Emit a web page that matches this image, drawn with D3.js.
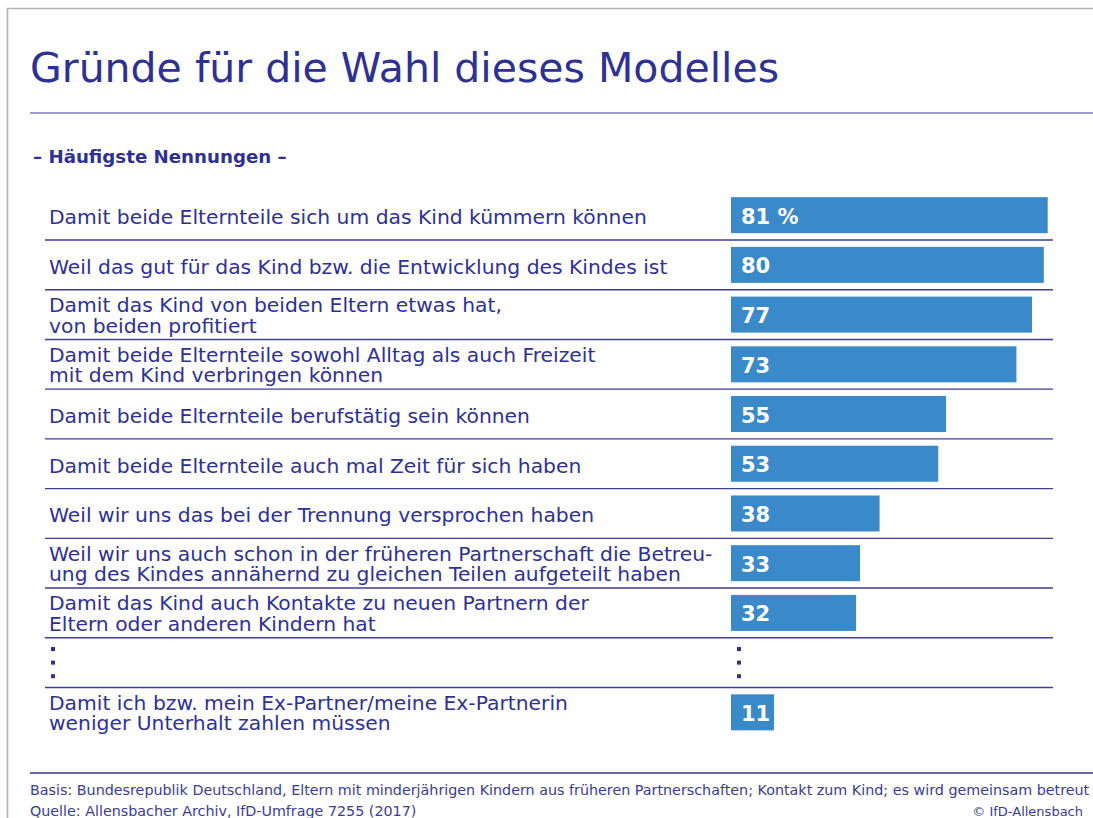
<!DOCTYPE html>
<html>
<head>
<meta charset="utf-8">
<script src="https://cdn.jsdelivr.net/npm/d3@7"></script>
<style>
  body { margin: 0; background: #fff; }
  svg { display: block; }
  text { font-family: "DejaVu Sans", sans-serif; }
</style>
</head>
<body>
<svg width="1093" height="818"></svg>
<script>
// answers (one entry per row, lines split for the two-line labels)
var labels = [
  ["Damit beide Elternteile sich um das Kind kümmern können"],
  ["Weil das gut für das Kind bzw. die Entwicklung des Kindes ist"],
  ["Damit das Kind von beiden Eltern etwas hat,", "von beiden profitiert"],
  ["Damit beide Elternteile sowohl Alltag als auch Freizeit", "mit dem Kind verbringen können"],
  ["Damit beide Elternteile berufstätig sein können"],
  ["Damit beide Elternteile auch mal Zeit für sich haben"],
  ["Weil wir uns das bei der Trennung versprochen haben"],
  ["Weil wir uns auch schon in der früheren Partnerschaft die Betreu-", "ung des Kindes annähernd zu gleichen Teilen aufgeteilt haben"],
  ["Damit das Kind auch Kontakte zu neuen Partnern der", "Eltern oder anderen Kindern hat"],
  [],  // ellipsis row
  ["Damit ich bzw. mein Ex-Partner/meine Ex-Partnerin", "weniger Unterhalt zahlen müssen"]
];
var values = [81, 80, 77, 73, 55, 53, 38, 33, 32, null, 11];

var title = "Gründe für die Wahl dieses Modelles";
var subtitle = "– Häufigste Nennungen –";
var basis = "Basis: Bundesrepublik Deutschland, Eltern mit minderjährigen Kindern aus früheren Partnerschaften; Kontakt zum Kind; es wird gemeinsam betreut";
var quelle = "Quelle: Allensbacher Archiv, IfD-Umfrage 7255 (2017)";
var copyright = "© IfD-Allensbach";

var blue = "#2e3192",
    barBlue = "#3a89c9";

var svg = d3.select("svg"),
    width = +svg.attr("width"),
    height = +svg.attr("height");

// frame
svg.append("path")
  .attr("d", "M7.5," + height + "V8.5H" + width)
  .attr("fill", "none")
  .attr("stroke", "#b3b3b3")
  .attr("stroke-width", 1.6);

svg.append("text")
  .attr("x", 30)
  .attr("y", 82)
  .attr("fill", blue)
  .style("font-size", "41px")
  .text(title);

svg.append("line")
  .attr("x1", 30).attr("x2", width)
  .attr("y1", 113).attr("y2", 113)
  .attr("stroke", "#7b7ec2")
  .attr("stroke-width", 1.5);

svg.append("text")
  .attr("x", 33)
  .attr("y", 163)
  .attr("fill", blue)
  .style("font-size", "18.2px")
  .style("font-weight", "bold")
  .text(subtitle);

var y = d3.scaleBand()
  .domain(d3.range(values.length))
  .range([190.3, 737.2]);

var x = d3.scaleLinear()
  .domain([0, 100])
  .range([731, 1122]);

var barH = 36;

// row separators
svg.append("g")
  .selectAll("line")
  .data(d3.range(values.length - 1))
  .enter().append("line")
  .attr("x1", 45).attr("x2", 1053)
  .attr("y1", function(i) { return y(i) + y.bandwidth(); })
  .attr("y2", function(i) { return y(i) + y.bandwidth(); })
  .attr("stroke", "#3d3e96")
  .attr("stroke-width", 1.4);

var row = svg.append("g")
  .selectAll("g")
  .data(values.map(function(v, i) { return {value: v, lines: labels[i], i: i}; }))
  .enter().append("g")
  .attr("transform", function(d) { return "translate(0," + (y(d.i) + y.bandwidth() / 2) + ")"; });

// labels
row.append("text")
  .attr("fill", blue)
  .style("font-size", "20.3px")
  .each(function(d) {
    var t = d3.select(this);
    var first = d.lines.length == 1 ? 9 : -2.5;
    d.lines.forEach(function(s, k) {
      t.append("tspan")
        .attr("x", 49)
        .attr("y", first + k * 20.5)
        .text(s);
    });
  });

var bars = row.filter(function(d) { return d.value != null; });

bars.append("rect")
  .attr("x", x(0))
  .attr("y", -barH / 2)
  .attr("width", function(d) { return x(d.value) - x(0); })
  .attr("height", barH)
  .attr("fill", barBlue);

bars.append("text")
  .attr("x", x(0) + 10)
  .attr("y", 8.5)
  .attr("fill", "#fff")
  .style("font-size", "21px")
  .style("font-weight", "bold")
  .text(function(d, k) { return k == 0 ? d.value + " %" : d.value; });

// vertical ellipsis for the omitted answers
var gap = row.filter(function(d) { return d.value == null; });
[51, 737].forEach(function(cx) {
  gap.selectAll(null)
    .data([-13.6, 0, 13.6])
    .enter().append("rect")
    .attr("x", cx)
    .attr("y", function(dy) { return dy - 2; })
    .attr("width", 4)
    .attr("height", 4)
    .attr("fill", blue);
});

// footer
svg.append("line")
  .attr("x1", 30).attr("x2", width)
  .attr("y1", 773).attr("y2", 773)
  .attr("stroke", "#35368f")
  .attr("stroke-width", 1.5);

var foot = svg.append("g")
  .attr("fill", "#3a3c96")
  .style("font-size", "14.3px");

foot.append("text").attr("x", 30).attr("y", 795).text(basis);
foot.append("text").attr("x", 30).attr("y", 816).text(quelle);
foot.append("text").attr("x", 1083).attr("y", 816)
  .attr("text-anchor", "end")
  .style("font-size", "13px")
  .text(copyright);
</script>
</body>
</html>
